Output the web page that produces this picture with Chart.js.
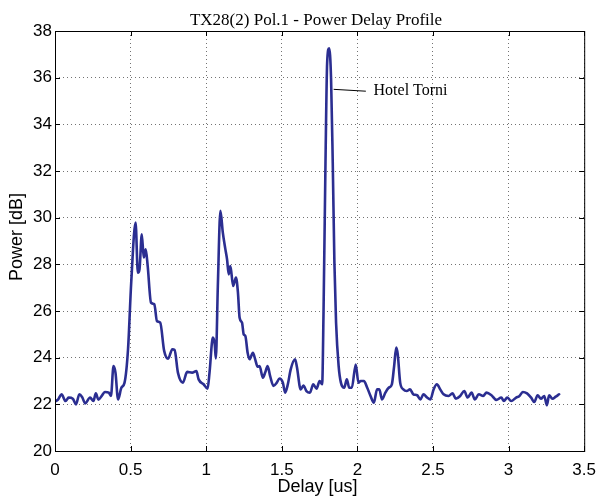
<!DOCTYPE html>
<html>
<head>
<meta charset="utf-8">
<script src="https://cdn.jsdelivr.net/npm/chart.js@4"></script>
<style>
  html, body { margin: 0; padding: 0; background: #fff; }
  #wrap { width: 605px; height: 496px; }
</style>
</head>
<body>
<div id="wrap"><canvas id="pdp" width="605" height="496"></canvas></div>
<script>
// ─── DATA ────────────────────────────────────────────────────────────────────

const titleText = "TX28(2) Pol.1 - Power Delay Profile";
const xLabel = "Delay [us]";
const yLabel = "Power [dB]";

const xTicks = [0, 0.5, 1, 1.5, 2, 2.5, 3, 3.5];
const yTicks = [20, 22, 24, 26, 28, 30, 32, 34, 36, 38];

// delay in microseconds
const delayUs = [
    0.004, 0.02, 0.043, 0.07, 0.09, 0.118, 0.139, 0.161, 0.18, 0.2,
    0.232, 0.254, 0.27, 0.287, 0.309, 0.33, 0.356, 0.37, 0.387, 0.4,
    0.417, 0.439, 0.46, 0.483, 0.504, 0.533, 0.548, 0.559, 0.574, 0.587,
    0.6, 0.613, 0.635, 0.657, 0.674, 0.696, 0.722, 0.748, 0.776, 0.791,
    0.813, 0.846, 0.874, 0.907, 0.935, 0.95, 0.983, 1.009, 1.022, 1.044,
    1.056, 1.064, 1.077, 1.094, 1.11, 1.127, 1.138, 1.149, 1.16, 1.178,
    1.197, 1.21, 1.221, 1.237, 1.248, 1.259, 1.274, 1.287, 1.309, 1.324,
    1.34, 1.353, 1.375, 1.39, 1.406, 1.423, 1.445, 1.467, 1.485, 1.507,
    1.522, 1.54, 1.559, 1.588, 1.60, 1.625, 1.643, 1.663, 1.686, 1.708,
    1.73, 1.75, 1.767, 1.776, 1.789, 1.80, 1.813, 1.826, 1.837, 1.848,
    1.859, 1.876, 1.891, 1.913, 1.93, 1.946, 1.963, 1.989, 2.007, 2.022,
    2.043, 2.065, 2.087, 2.109, 2.13, 2.145, 2.163, 2.185, 2.207, 2.228,
    2.243, 2.257, 2.267, 2.283, 2.304, 2.326, 2.348, 2.37, 2.395, 2.417,
    2.437, 2.461, 2.483, 2.504, 2.526, 2.548, 2.57, 2.603, 2.629, 2.651,
    2.68, 2.707, 2.729, 2.755, 2.777, 2.803, 2.832, 2.854, 2.887, 2.919,
    2.952, 2.969, 2.991, 3.017, 3.05, 3.072, 3.094, 3.122, 3.149, 3.17,
    3.192, 3.214, 3.236, 3.253, 3.268, 3.29, 3.312, 3.334
];

// power in dB
const powerDb = [
    22.14, 22.2, 22.43, 22.14, 22.29, 22.24, 22.0, 22.43, 22.3, 22.04,
    22.29, 22.14, 22.47, 22.2, 22.36, 22.53, 22.5, 22.36, 23.64, 23.36,
    22.21, 22.71, 22.93, 24.36, 27.21, 29.79, 27.64, 27.79, 29.29, 28.29,
    28.64, 27.93, 26.36, 26.29, 25.57, 25.5, 24.29, 23.96, 24.36, 24.33,
    23.36, 22.93, 23.39, 23.36, 23.43, 23.07, 22.86, 22.67, 23.36, 24.86,
    24.6, 23.97, 27.07, 30.29, 29.36, 28.64, 28.21, 27.57, 27.93, 27.07,
    27.43, 26.79, 25.71, 25.5, 25.0, 24.93, 24.21, 23.93, 24.21, 23.93,
    23.61, 23.64, 23.14, 23.36, 23.64, 23.21, 22.79, 22.93, 23.11, 22.93,
    22.5, 22.86, 23.5, 23.93, 23.6, 22.64, 22.81, 22.57, 22.5, 22.86,
    22.67, 23.0, 22.86, 25.93, 32.36, 36.64, 37.26, 35.93, 32.36, 28.07,
    25.5, 23.64, 22.93, 22.71, 23.07, 22.71, 22.71, 23.71, 22.93, 23.0,
    23.0, 22.71, 22.36, 22.07, 22.64, 22.64, 22.21, 22.5, 22.71, 22.86,
    23.64, 24.43, 24.14, 22.93, 22.64, 22.57, 22.64, 22.43, 22.39, 22.21,
    22.43, 22.29, 22.21, 22.64, 22.86, 22.64, 22.43, 22.36, 22.47, 22.24,
    22.36, 22.57, 22.29, 22.5, 22.21, 22.43, 22.36, 22.5, 22.39, 22.19,
    22.29, 22.14, 22.29, 22.14, 22.29, 22.36, 22.53, 22.47, 22.29, 22.1,
    22.39, 22.24, 22.36, 21.96, 22.39, 22.24, 22.33, 22.43
];

// annotation: label text and where its leader line runs (data units)
const noteText = "Hotel Torni";
const noteFrom = { x: 1.843, y: 35.5 };
const noteTo   = { x: 2.056, y: 35.42 };
const noteAt   = { x: 2.107, y: 35.45 };

// ─── PLUGIN: title, axis labels, box, inward ticks, annotation ───────────────

const matlabFrame = {
    id: "matlabFrame",
    afterDraw(chart) {
        const { ctx, chartArea: a, scales: { x, y } } = chart;
        ctx.save();

        // box
        ctx.strokeStyle = "#000";
        ctx.lineWidth = 1;
        ctx.strokeRect(a.left + 0.5, a.top + 0.5, a.right - a.left, a.bottom - a.top);

        // inward ticks on all four sides
        const tl = 5;
        ctx.beginPath();
        xTicks.forEach(v => {
            const px = Math.round(x.getPixelForValue(v)) + 0.5;
            ctx.moveTo(px, a.bottom); ctx.lineTo(px, a.bottom - tl);
            ctx.moveTo(px, a.top);    ctx.lineTo(px, a.top + tl);
        });
        yTicks.forEach(v => {
            const py = Math.round(y.getPixelForValue(v)) + 0.5;
            ctx.moveTo(a.left, py);  ctx.lineTo(a.left + tl, py);
            ctx.moveTo(a.right, py); ctx.lineTo(a.right - tl, py);
        });
        ctx.stroke();

        // title
        ctx.fillStyle = "#000";
        ctx.font = '17px "Liberation Serif", serif';
        ctx.textAlign = "center";
        ctx.textBaseline = "alphabetic";
        ctx.fillText(titleText, 316, 25);

        // x label
        ctx.font = '18px "Liberation Sans", Arial, sans-serif';
        ctx.fillText(xLabel, (a.left + a.right) / 2 - 2, 492);

        // y label
        ctx.save();
        ctx.translate(22, 237);
        ctx.rotate(-Math.PI / 2);
        ctx.fillText(yLabel, 0, 0);
        ctx.restore();

        // annotation
        ctx.beginPath();
        ctx.moveTo(x.getPixelForValue(noteFrom.x), y.getPixelForValue(noteFrom.y));
        ctx.lineTo(x.getPixelForValue(noteTo.x), y.getPixelForValue(noteTo.y));
        ctx.stroke();
        ctx.font = '16px "Liberation Serif", serif';
        ctx.textAlign = "left";
        ctx.textBaseline = "middle";
        ctx.fillText(noteText, x.getPixelForValue(noteAt.x), y.getPixelForValue(noteAt.y));

        ctx.restore();
    }
};

// ─── CHART ───────────────────────────────────────────────────────────────────

const points = delayUs.map((d, i) => ({ x: d, y: powerDb[i] }));
const tickFont = { family: '"Liberation Sans", Arial, sans-serif', size: 17 };
const gridStyle = {
    color: "rgba(0,0,0,0.55)",
    lineWidth: 1,
    drawTicks: false
};

new Chart(document.getElementById("pdp"), {
    type: "line",
    data: {
        datasets: [{
            data: points,
            borderColor: "#2b2e91",
            borderWidth: 2.6,
            borderJoinStyle: "round",
            borderCapStyle: "round",
            pointRadius: 0,
            cubicInterpolationMode: "monotone",
            fill: false
        }]
    },
    options: {
        responsive: false,
        animation: false,
        layout: { padding: { left: 0, top: 31, right: 15, bottom: 0 } },
        plugins: { legend: { display: false }, tooltip: { enabled: false } },
        scales: {
            x: {
                type: "linear",
                min: 0, max: 3.5,
                grid: gridStyle,
                border: { display: false, dash: [1, 3] },
                ticks: {
                    stepSize: 0.5, autoSkip: false, maxRotation: 0,
                    color: "#000", font: tickFont, padding: 9,
                    callback: v => String(Number(v))
                },
                afterFit: s => { s.height = 45; }
            },
            y: {
                min: 20, max: 38,
                grid: gridStyle,
                border: { display: false, dash: [1, 3] },
                ticks: {
                    stepSize: 2, color: "#000", font: tickFont, padding: 3
                },
                afterFit: s => { s.width = 55; }
            }
        }
    },
    plugins: [matlabFrame]
});
</script>
</body>
</html>
